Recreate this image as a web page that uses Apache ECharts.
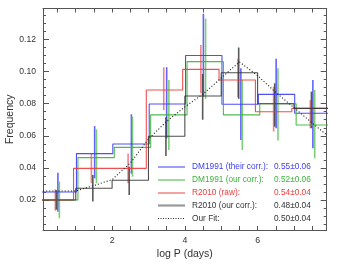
<!DOCTYPE html>
<html>
<head>
<meta charset="utf-8">
<script src="https://cdn.jsdelivr.net/npm/echarts@6/dist/echarts.min.js"></script>
<style>html,body{margin:0;padding:0;background:#fff}#c{width:354px;height:266px}</style>
</head>
<body>
<div id="c"></div>
<script>
// ---- data ----
const binEdges = [0, 1, 2, 3, 4, 5, 6, 7, 8];
const blueHist  = [0.025, 0.0489, 0.0549, 0.0798, 0.110, 0.0796, 0.0858, 0.074];
const greenHist = [0.020, 0.0464, 0.0528, 0.073, 0.1062, 0.073, 0.080, 0.0667];
const redHist   = [0.020, 0.0397, 0.0397, 0.0885, 0.1014, 0.0948, 0.075, 0.0771];
const blackHist = [0.020, 0.0273, 0.0323, 0.0597, 0.0848, 0.0993, 0.080, 0.0771];

const blueErrX = [0.51, 1.52, 2.53, 3.50, 4.51, 5.54, 6.51, 7.52];
const blueErrLo = [0.0127, 0.0335, 0.0364, 0.0584, 0.0844, 0.0574, 0.0647, 0.0522];
const blueErrHi = [0.037, 0.066, 0.0734, 0.1027, 0.136, 0.102, 0.108, 0.0948];

const greenErrX = [0.55, 1.57, 2.56, 3.56, 4.57, 5.58, 6.56, 7.57];
const greenErrLo = [0.0086, 0.0304, 0.0345, 0.0512, 0.083, 0.0512, 0.057, 0.046];
const greenErrHi = [0.0314, 0.064, 0.0719, 0.0948, 0.133, 0.0948, 0.102, 0.0885];

const redErrX = [0.44, 1.43, 2.44, 3.42, 4.44, 5.46, 6.44, 7.45];
const redErrLo = [0.0133, 0.0304, 0.0304, 0.076, 0.0865, 0.084, 0.0626, 0.0647];
const redErrHi = [0.0267, 0.049, 0.049, 0.1027, 0.1166, 0.108, 0.0906, 0.0822];

const blackErrX = [0.47, 1.47, 2.47, 3.48, 4.49, 5.48, 6.47, 7.48];
const blackErrLo = [0.014, 0.019, 0.0231, 0.0474, 0.070, 0.083, 0.0657, 0.0647];
const blackErrHi = [0.026, 0.0356, 0.0407, 0.0715, 0.0985, 0.115, 0.0927, 0.0875];

const fitLogP = [0.1, 1.0, 1.5, 2.0, 2.5, 3.0, 3.5, 4.0, 4.5, 5.0, 5.5, 6.0, 6.5, 7.0, 7.5, 7.9];
const fitFreq = [0.0256, 0.0256, 0.029, 0.0327, 0.043, 0.058, 0.069, 0.078, 0.086, 0.096, 0.106, 0.0975, 0.087, 0.0775, 0.068, 0.0605];

const xTickVals = [0.5, 1, 1.5, 2, 2.5, 3, 3.5, 4, 4.5, 5, 5.5, 6, 6.5, 7, 7.5];
const xLabelVals = [2, 4, 6];
const yMajorVals = [0.02, 0.04, 0.06, 0.08, 0.10, 0.12];
const yMinorVals = [0.005,0.01,0.015,0.025,0.03,0.035,0.045,0.05,0.055,0.065,0.07,0.075,0.085,0.09,0.095,0.105,0.11,0.115,0.125,0.13,0.135];

const legendLabels = ['DM1991 (their corr.):', 'DM1991 (our corr.):', 'R2010 (raw):', 'R2010 (our corr.):', 'Our Fit:'];
const legendValues = ['0.55±0.06', '0.52±0.06', '0.54±0.04', '0.48±0.04', '0.50±0.04'];

// ---- helpers ----
function stepPoints(vals, shift) {
  const pts = [];
  for (let i = 0; i < vals.length; i++) {
    pts.push([binEdges[i] + shift, vals[i]]);
    pts.push([binEdges[i + 1] + shift, vals[i]]);
  }
  return pts;
}
function errData(xs, lo, hi) { return xs.map((x, i) => [x, lo[i], hi[i]]); }

const C = {
  blue: '#3c3cf5', green: '#3cb43c', red: '#ee3c3c', black: '#3a3a3a',
  blueE: 'rgba(70,70,255,0.85)', greenE: 'rgba(90,195,90,0.8)', redE: 'rgba(240,100,100,0.8)', blackE: 'rgba(60,60,60,0.85)'
};

function histSeries(vals, shift, color) {
  return { type: 'line', data: stepPoints(vals, shift), symbol: 'none', silent: true, animation: false,
    lineStyle: { color: color, width: 1.1, opacity: 0.9 }, clip: true };
}
function errSeries(data, color) {
  return { type: 'custom', data: data, silent: true, animation: false, encode: { x: 0, y: [1, 2] },
    renderItem: function (params, api) {
      const p1 = api.coord([api.value(0), api.value(1)]);
      const p2 = api.coord([api.value(0), api.value(2)]);
      return { type: 'line', shape: { x1: p1[0], y1: p1[1], x2: p2[0], y2: p2[1] },
        style: { stroke: color, lineWidth: 1.6 } };
    } };
}

const axisCol = '#555';
const textCol = '#333';
const FONT = 'Liberation Sans';

const chart = echarts.init(document.getElementById('c'), null, { renderer: 'canvas' });

const rows = [167, 180, 193, 205.5, 218.5];
const legColors = [C.blue, C.green, C.red, '#333', '#333'];
const legLine = [
  { stroke: C.blue, lineWidth: 1 },
  { stroke: C.green, lineWidth: 1 },
  { stroke: '#f08a8a', lineWidth: 1.6 },
  { stroke: '#999', lineWidth: 2.2 },
  { stroke: '#333', lineWidth: 1, lineDash: [1, 1.5] }
];
const graphics = [];
rows.forEach((y, i) => {
  graphics.push({ type: 'line', shape: { x1: 158, y1: y, x2: 185, y2: y }, style: legLine[i], silent: true });
  graphics.push({ type: 'text', x: 192, y: y, style: { text: legendLabels[i], fill: legColors[i], font: '8.3px ' + FONT, textVerticalAlign: 'middle', textAlign: 'left' }, silent: true });
  graphics.push({ type: 'text', x: 274, y: y, style: { text: legendValues[i], fill: legColors[i], font: '8.3px ' + FONT, textVerticalAlign: 'middle', textAlign: 'left' }, silent: true });
});

const xCommon = { type: 'value', min: 0.1, max: 7.9, splitLine: { show: false } };
const yCommon = { type: 'value', min: 0.0013, max: 0.1393, splitLine: { show: false } };

chart.setOption({
  animation: false,
  backgroundColor: '#fff',
  textStyle: { fontFamily: FONT },
  grid: { left: 43, right: 27.3, top: 8.5, bottom: 36, containLabel: false, outerBoundsMode: 'none' },
  xAxis: [
    Object.assign({}, xCommon, {
      position: 'bottom',
      axisLine: { show: true, lineStyle: { color: axisCol, width: 1 } },
      axisTick: { show: true, inside: true, length: 4, customValues: xTickVals, lineStyle: { color: axisCol } },
      axisLabel: { show: true, customValues: xLabelVals, color: textCol, fontSize: 8.8, fontFamily: FONT, margin: 6 },
      name: 'log P (days)', nameLocation: 'middle', nameGap: 19, nameMoveOverlap: false,
      nameTextStyle: { color: textCol, fontSize: 10.5, fontFamily: FONT }
    }),
    Object.assign({}, xCommon, {
      position: 'top',
      axisLine: { show: true, lineStyle: { color: axisCol, width: 1 } },
      axisTick: { show: true, inside: true, length: 4, customValues: xTickVals, lineStyle: { color: axisCol } },
      axisLabel: { show: false }
    })
  ],
  yAxis: [
    Object.assign({}, yCommon, {
      position: 'left',
      axisLine: { show: true, lineStyle: { color: axisCol, width: 1 } },
      axisTick: { show: true, inside: true, length: 6, customValues: yMajorVals, lineStyle: { color: axisCol } },
      axisLabel: { show: true, customValues: yMajorVals, color: textCol, fontSize: 8.6, fontFamily: FONT, margin: 7,
        formatter: v => v.toFixed(2) },
      name: 'Frequency', nameLocation: 'middle', nameGap: 27, nameMoveOverlap: false,
      nameTextStyle: { color: textCol, fontSize: 10.5, fontFamily: FONT }
    }),
    Object.assign({}, yCommon, {
      position: 'left',
      axisLine: { show: false },
      axisTick: { show: true, inside: true, length: 3, customValues: yMinorVals, lineStyle: { color: axisCol } },
      axisLabel: { show: false }
    }),
    Object.assign({}, yCommon, {
      position: 'right',
      axisLine: { show: true, lineStyle: { color: axisCol, width: 1 } },
      axisTick: { show: true, inside: true, length: 6, customValues: yMajorVals, lineStyle: { color: axisCol } },
      axisLabel: { show: false }
    }),
    Object.assign({}, yCommon, {
      position: 'right',
      axisLine: { show: false },
      axisTick: { show: true, inside: true, length: 3, customValues: yMinorVals, lineStyle: { color: axisCol } },
      axisLabel: { show: false }
    })
  ],
  series: [
    histSeries(blueHist, 0.02, C.blue),
    histSeries(greenHist, 0.06, C.green),
    histSeries(redHist, -0.06, C.red),
    histSeries(blackHist, 0.0, C.black),
    errSeries(errData(blueErrX, blueErrLo, blueErrHi), C.blueE),
    errSeries(errData(greenErrX, greenErrLo, greenErrHi), C.greenE),
    errSeries(errData(redErrX, redErrLo, redErrHi), C.redE),
    errSeries(errData(blackErrX, blackErrLo, blackErrHi), C.blackE),
    { type: 'line', data: fitLogP.map((x, i) => [x, fitFreq[i]]), symbol: 'none', silent: true, animation: false,
      lineStyle: { color: '#222', width: 1.1, type: [1.1, 2] } }
  ],
  graphic: graphics
});
</script>
</body>
</html>
